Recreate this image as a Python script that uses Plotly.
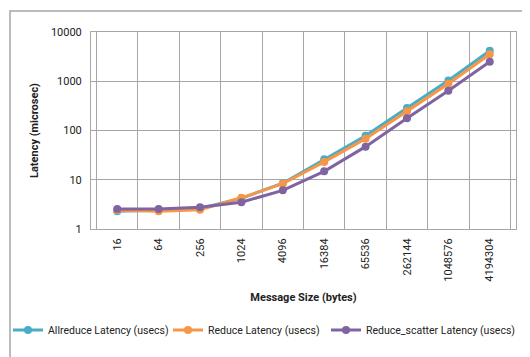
import plotly.graph_objects as go

sizes = ["16", "64", "256", "1024", "4096", "16384", "65536", "262144", "1048576", "4194304"]
allreduce = [2.3, 2.4, 2.6, 4.2, 8.5, 26, 78, 285, 1040, 4150]
reduce_ = [2.4, 2.3, 2.45, 4.3, 8.3, 23, 68, 245, 890, 3540]
reduce_scatter = [2.55, 2.55, 2.75, 3.5, 6.1, 14.8, 47, 178, 640, 2500]

series = [
    ("Allreduce Latency (usecs)", allreduce, "#4BACC6", "legend"),
    ("Reduce Latency (usecs)", reduce_, "#F79646", "legend2"),
    ("Reduce_scatter Latency (usecs)", reduce_scatter, "#8064A2", "legend3"),
]

fig = go.Figure()
for name, vals, col, lg in series:
    fig.add_trace(go.Scatter(x=sizes, y=vals, name=name, mode="lines+markers",
                             line=dict(color=col, width=3),
                             marker=dict(color=col, size=8), legend=lg))

L, R, T, B = 83, 22, 24, 136
W, H = 530, 357
pw, ph = W - L - R, H - T - B


def leg(xpx):
    return dict(orientation="h", xref="container", yref="container",
                x=xpx / W, xanchor="left", y=0.098, yanchor="middle",
                font=dict(size=10.5), bgcolor="rgba(0,0,0,0)")


fig.update_layout(
    width=W, height=H,
    margin=dict(l=L, r=R, t=T, b=B, autoexpand=False),
    paper_bgcolor="white", plot_bgcolor="white",
    font=dict(family="Roboto, Liberation Sans, Arial, sans-serif", size=11, color="#222"),
    showlegend=True,
    legend=leg(-12),
    legend2=leg(160),
    legend3=leg(318),
    xaxis=dict(type="category", tickangle=-90, showgrid=True, gridcolor="#A6A6A6",
               gridwidth=1, tickson="boundaries", ticks="", showline=True,
               linecolor="#A6A6A6", mirror=True, automargin=False, ticklabelstandoff=4,
               title=dict(text="<b>Message Size (bytes)</b>", font=dict(size=11), standoff=12)),
    yaxis=dict(type="log", range=[0, 4], tickvals=[1, 10, 100, 1000, 10000],
               ticktext=["1", "10", "100", "1000", "10000"],
               showgrid=True, gridcolor="#A6A6A6", gridwidth=1, showline=True,
               linecolor="#A6A6A6", mirror=True, ticks="", zeroline=False,
               automargin=False, ticklabelstandoff=6,
               title=dict(text="<b>Latency (microsec)</b>", font=dict(size=11), standoff=10)),
)

# outer frame
fig.add_shape(type="rect", xref="paper", yref="paper",
              x0=(2 - L) / pw, x1=(527 - L) / pw,
              y0=(H - B - 354) / ph, y1=(H - B - 3) / ph,
              line=dict(color="#A6A6A6", width=1.5), layer="below")

fig.write_html("out.html")
